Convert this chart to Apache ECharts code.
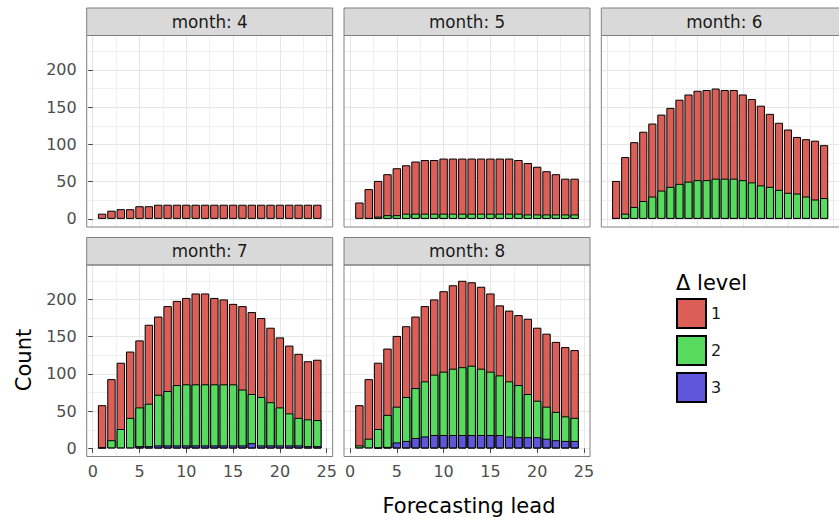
<!DOCTYPE html>
<html><head><meta charset="utf-8">
<script src="https://cdn.jsdelivr.net/npm/echarts@6/dist/echarts.min.js"></script>
<style>html,body{margin:0;padding:0;background:#fff}#c{width:839px;height:519px}</style>
</head><body><div id="c"></div>
<script>
// ---- data ----
const leads = [1,2,3,4,5,6,7,8,9,10,11,12,13,14,15,16,17,18,19,20,21,22,23,24];
const months = ['month: 4','month: 5','month: 6','month: 7','month: 8'];
const levels = ['1','2','3'];
const xTicks = [0,5,10,15,20,25];
const yTicks = [0,50,100,150,200];

const m4_l1 = [7,11,13,13,17,17,19,19,19,19,19,19,19,19,19,19,19,19,19,19,19,19,19,19];
const m4_l2 = [0,0,0,0,0,0,0,0,0,0,0,0,0,0,0,0,0,0,0,0,0,0,0,0];
const m4_l3 = [0,0,0,0,0,0,0,0,0,0,0,0,0,0,0,0,0,0,0,0,0,0,0,0];

const m5_l1 = [22,39,48,55,63,65,70,72,72,74,74,74,74,74,74,74,74,72,69,64,58,54,48,48];
const m5_l2 = [0,1,3,5,5,7,7,7,7,7,7,7,7,7,7,7,7,7,6,6,6,6,6,6];
const m5_l3 = [0,0,0,0,0,0,0,0,0,0,0,0,0,0,0,0,0,0,0,0,0,0,0,0];

const m6_l1 = [50,76,87,93,98,102,106,113,117,120,121,121,119,119,115,112,107,98,90,85,76,77,79,71];
const m6_l2 = [1,7,16,24,30,38,42,46,49,51,51,53,53,53,51,48,44,42,38,35,34,30,26,28];
const m6_l3 = [0,0,0,0,0,0,1,1,1,1,1,1,1,1,1,1,1,1,1,0,0,0,0,0];

const m7_l1 = [57,82,89,89,90,106,105,114,113,116,122,122,116,114,108,112,110,106,100,94,91,86,78,81];
const m7_l2 = [1,11,26,41,52,57,68,73,81,82,82,82,82,82,82,75,66,65,58,51,43,37,36,35];
const m7_l3 = [0,0,0,0,3,3,4,4,4,4,4,4,4,4,4,4,7,4,4,4,4,4,3,3];

const m8_l1 = [54,80,89,89,95,95,96,101,101,108,112,116,112,110,105,94,95,94,101,98,98,94,93,91];
const m8_l2 = [4,13,25,43,48,59,67,74,81,85,89,91,93,89,85,80,74,70,58,49,43,38,33,31];
const m8_l3 = [0,0,1,2,8,10,14,16,18,18,18,18,18,18,18,18,16,15,15,15,13,11,10,10];

const panelData = [
  [m4_l1,m4_l2,m4_l3],[m5_l1,m5_l2,m5_l3],[m6_l1,m6_l2,m6_l3],
  [m7_l1,m7_l2,m7_l3],[m8_l1,m8_l2,m8_l3]
];

// ---- layout / style ----
const FONT = 'DejaVu Sans';
const colors = ['#DB5F57','#57DB5F','#5F57DB'];
const layout = [[86.7,35.5],[344,35.5],[601.3,35.5],[86.7,265],[344,265]];
const showX = [false,false,false,true,true];
const showY = [true,false,false,true,false];
const PW = 246, PH = 191.5, SH = 27.5;
const X_MIN = -0.645, X_MAX = 25.645, Y_MIN = -10.9, Y_MAX = 246.2;

const grids = [], xAxes = [], yAxes = [], series = [], graphics = [];
layout.forEach((p, i) => {
  grids.push({left: p[0], top: p[1], width: PW, height: PH, show: false, containLabel: false});
  const common = {
    gridIndex: i, type: 'value',
    axisLine: {show: false},
    splitLine: {show: true, lineStyle: {color: '#e6e6e6', width: 1}},
    minorTick: {show: false, splitNumber: 2},
    minorSplitLine: {show: true, lineStyle: {color: '#f0f0f0', width: 1}}
  };
  xAxes.push(Object.assign({}, common, {
    min: X_MIN, max: X_MAX,
    axisTick: {show: showX[i], customValues: xTicks, length: 4.5, lineStyle: {color: '#444'}},
    axisLabel: {show: showX[i], customValues: xTicks, margin: 7, color: '#4d4d4d', fontSize: 16, fontFamily: FONT}
  }));
  yAxes.push(Object.assign({}, common, {
    min: Y_MIN, max: Y_MAX,
    axisTick: {show: showY[i], customValues: yTicks, length: 4.5, lineStyle: {color: '#444'}},
    axisLabel: {show: showY[i], customValues: yTicks, margin: 10, color: '#4d4d4d', fontSize: 16, fontFamily: FONT}
  }));
  // stacked drawing: each level's bar spans from 0 to its cumulative top (level k and below),
  // drawn from level 1 (tallest) to level 3 so that lower segments cover upper ones.
  const [a, b, c] = panelData[i];
  const cumul = [
    leads.map((_, j) => a[j] + b[j] + c[j]),
    leads.map((_, j) => b[j] + c[j]),
    leads.map((_, j) => c[j])
  ];
  [0,1,2].forEach(k => {
    series.push({
      name: levels[k], type: 'bar', xAxisIndex: i, yAxisIndex: i,
      barWidth: '90%', barGap: '-100%',
      itemStyle: {color: colors[k], borderColor: '#000', borderWidth: 1},
      emphasis: {disabled: true},
      z: 2 + k,
      data: leads.map((x, j) => [x, panelData[i][k][j] ? cumul[k][j] : null])
    });
  });
  // strip
  graphics.push({type: 'rect', shape: {x: p[0], y: p[1] - SH, width: PW, height: SH},
    style: {fill: '#d9d9d9', stroke: '#808080', lineWidth: 1}, z: 50});
  graphics.push({type: 'text', x: p[0] + PW / 2, y: p[1] - SH / 2,
    style: {text: months[i], fill: '#1a1a1a', fontSize: 16.8, fontFamily: FONT, align: 'center', verticalAlign: 'middle'}, z: 51});
  // panel border
  graphics.push({type: 'rect', shape: {x: p[0], y: p[1], width: PW, height: PH},
    style: {fill: 'none', stroke: '#808080', lineWidth: 1}, z: 50});
});

graphics.push({type: 'text', x: 24, y: 360, rotation: Math.PI / 2,
  style: {text: 'Count', fill: '#000', fontSize: 21, fontFamily: FONT, align: 'center', verticalAlign: 'middle'}});
graphics.push({type: 'text', x: 469, y: 506,
  style: {text: 'Forecasting lead', fill: '#000', fontSize: 21, fontFamily: FONT, align: 'center', verticalAlign: 'middle'}});
graphics.push({type: 'text', x: 676, y: 283,
  style: {text: 'Δ level', fill: '#000', fontSize: 21, fontFamily: FONT, align: 'left', verticalAlign: 'middle'}});

const chart = echarts.init(document.getElementById('c'), null, {renderer: 'svg'});
chart.setOption({
  animation: false,
  backgroundColor: '#fff',
  grid: grids, xAxis: xAxes, yAxis: yAxes, series: series,
  legend: {
    data: levels, orient: 'vertical', left: 676, top: 298, padding: 0,
    itemWidth: 29, itemHeight: 29, itemGap: 6, icon: 'rect', selectedMode: false,
    textStyle: {fontSize: 16, color: '#1a1a1a', fontFamily: FONT}
  },
  graphic: graphics
});
</script></body></html>
